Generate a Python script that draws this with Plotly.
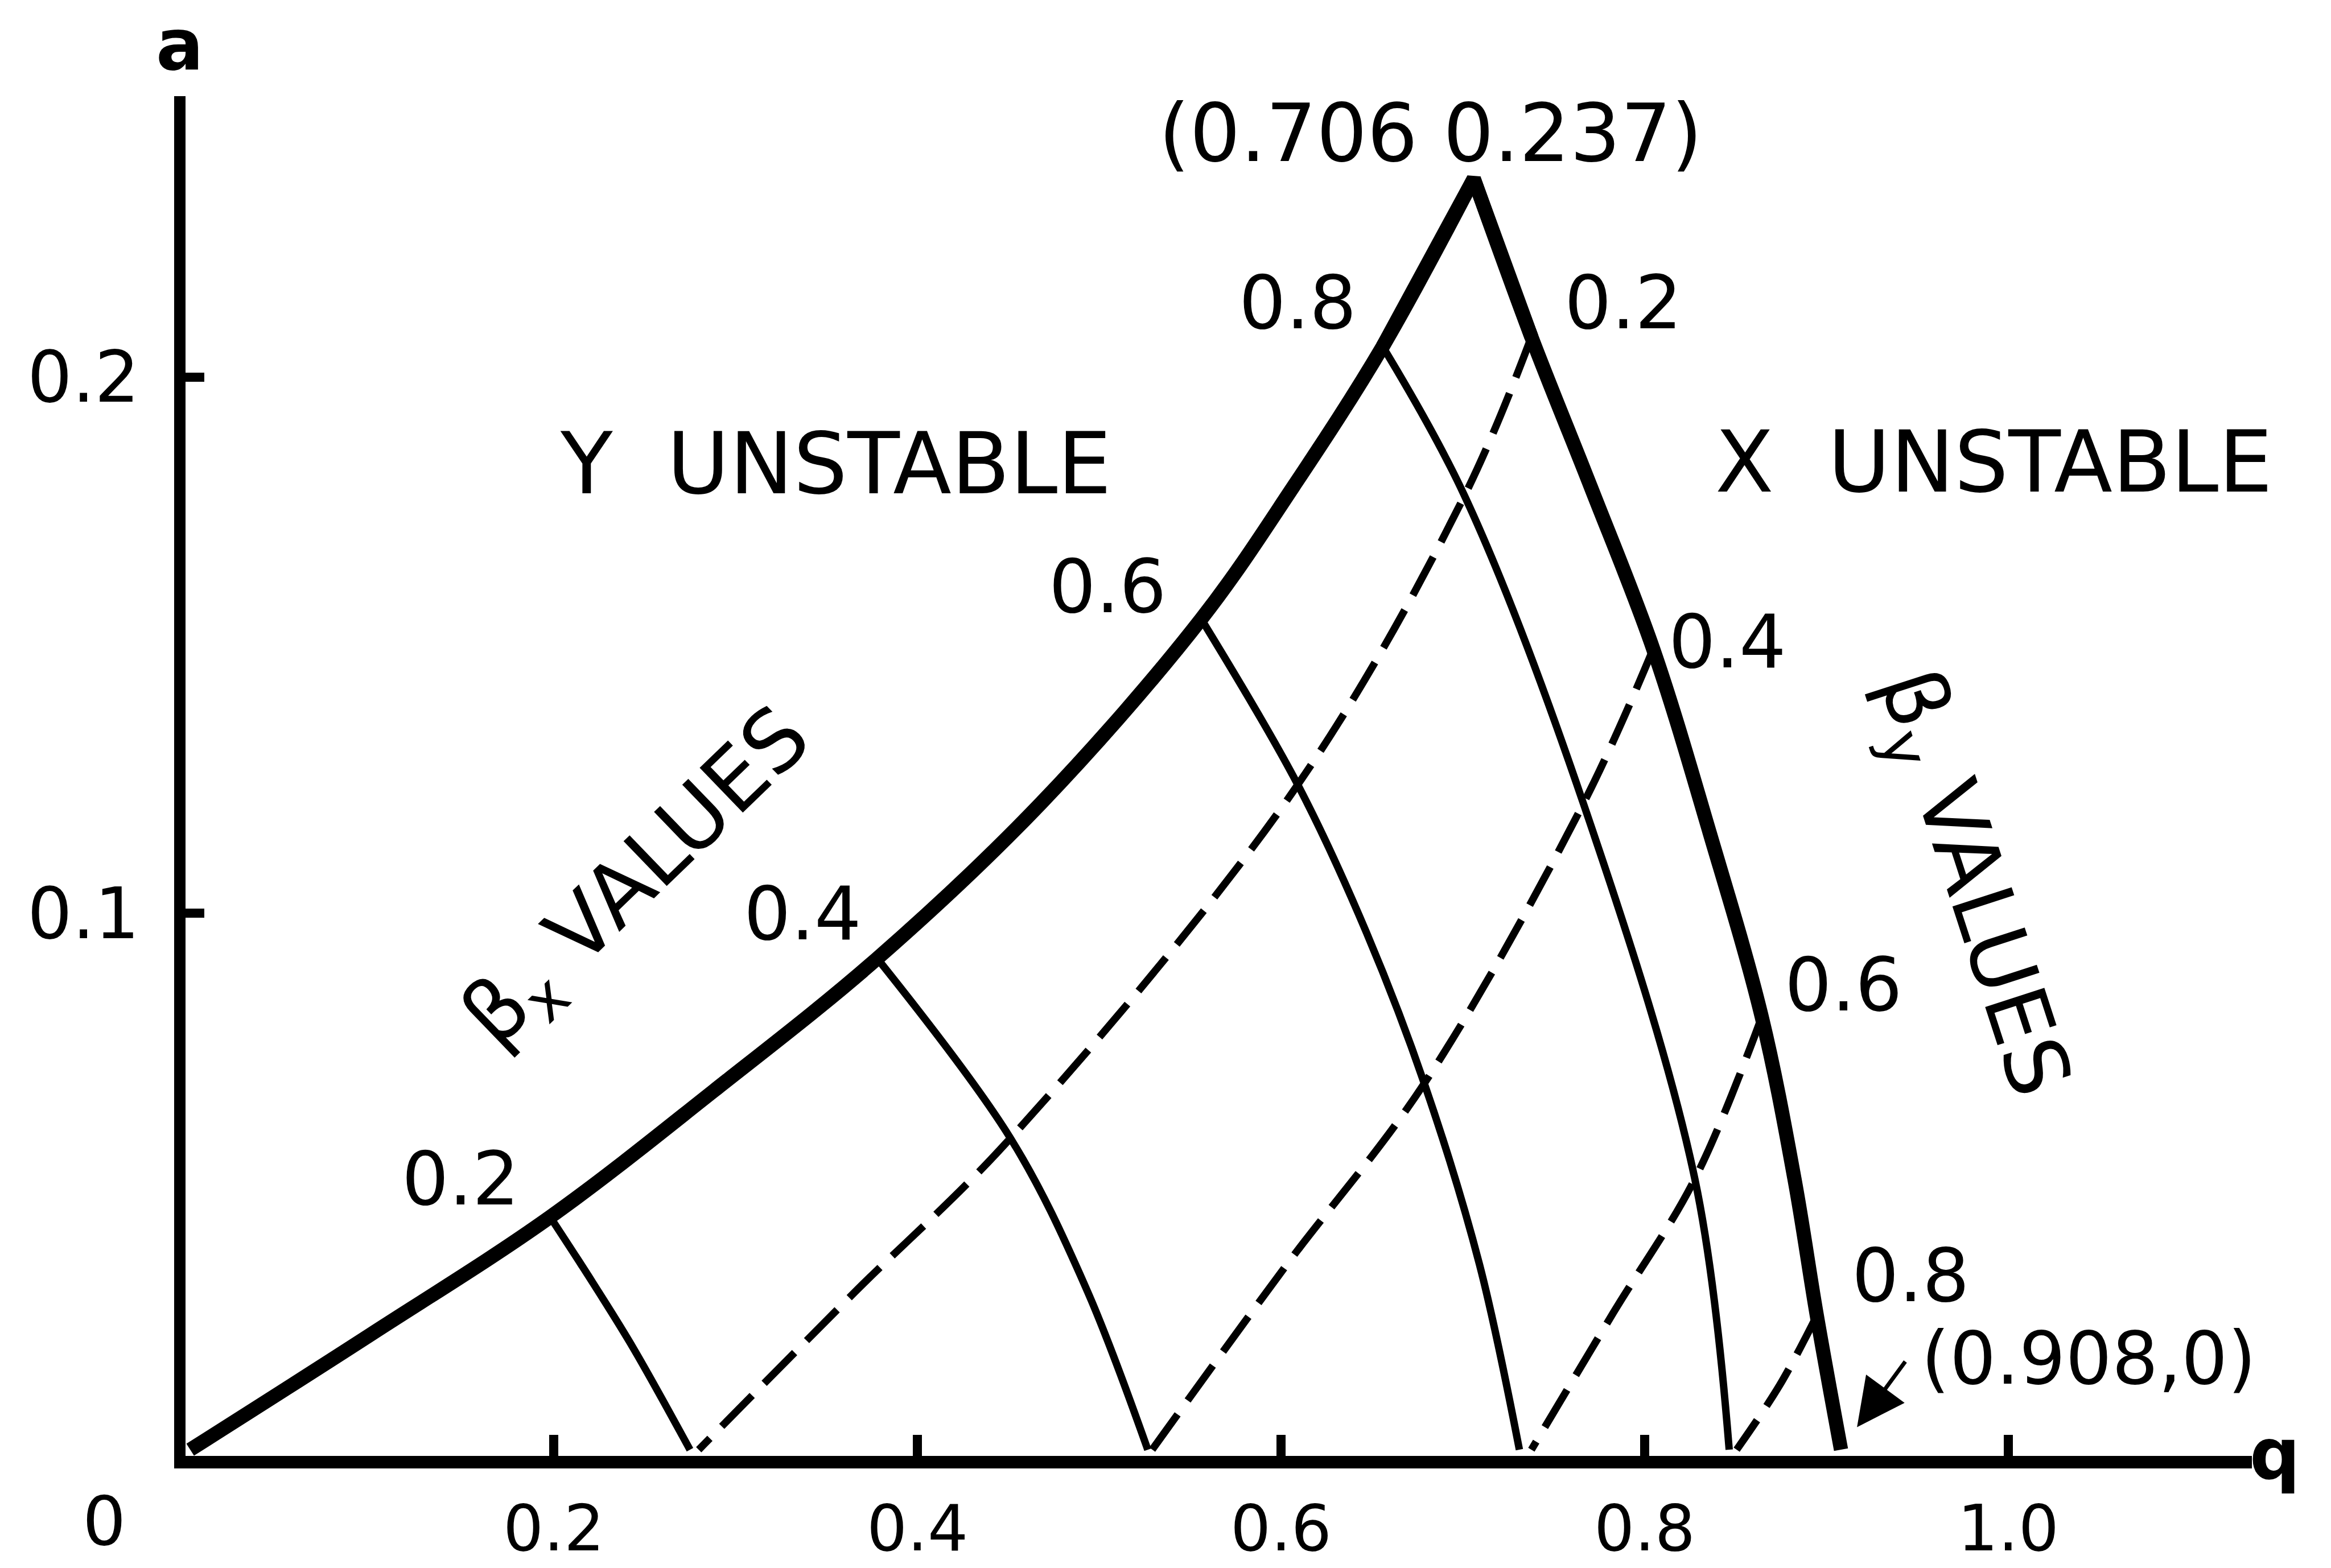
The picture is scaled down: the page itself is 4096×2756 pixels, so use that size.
import plotly.graph_objects as go

FONT = "DejaVu Sans"

# ---- first stability region boundary (a-q plane) ----
q_left = [0.0, 0.0998, 0.198, 0.2879, 0.3779, 0.4678, 0.5561, 0.6068, 0.6559, 0.706]
a_left = [0.0, 0.0216, 0.0434, 0.0669, 0.0916, 0.1205, 0.1549, 0.1796, 0.2057, 0.237]

q_right = [0.706, 0.7377, 0.7704, 0.8047, 0.8358, 0.8644, 0.8824, 0.8947, 0.908]
a_right = [0.237, 0.2075, 0.1795, 0.1493, 0.1150, 0.0807, 0.0505, 0.0250, 0.0]

# ---- iso-beta_x curves (solid) ----
bx_q = {
    "0.2": [0.198, 0.2217, 0.2438, 0.2749],
    "0.4": [0.3779, 0.4515, 0.4924, 0.5267],
    "0.6": [0.5561, 0.6092, 0.6469, 0.6788, 0.7091, 0.7311],
    "0.8": [0.6559, 0.7009, 0.7663, 0.8276, 0.8465],
}
bx_a = {
    "0.2": [0.0434, 0.0310, 0.0189, 0.0],
    "0.4": [0.0916, 0.0579, 0.0304, 0.0],
    "0.6": [0.1549, 0.1240, 0.0965, 0.0683, 0.0346, 0.0],
    "0.8": [0.2057, 0.1779, 0.1205, 0.0505, 0.0],
}

# ---- iso-beta_y curves (dashed) ----
by_q = {
    "0.2": [0.7377, 0.7009, 0.6092, 0.4515, 0.3656, 0.2797],
    "0.4": [0.8047, 0.7663, 0.6788, 0.6027, 0.5291],
    "0.6": [0.8644, 0.8276, 0.7827, 0.7377],
    "0.8": [0.8947, 0.8742, 0.8506],
}
by_a = {
    "0.2": [0.2075, 0.1779, 0.1240, 0.0582, 0.0294, 0.0],
    "0.4": [0.1493, 0.1205, 0.0683, 0.0343, 0.0],
    "0.6": [0.0807, 0.0505, 0.0255, 0.0],
    "0.8": [0.0250, 0.0120, 0.0],
}

# labelled points and axis ticks
apex = (0.706, 0.237)
q_intercept = (0.908, 0.0)
x_ticks = [0.2, 0.4, 0.6, 0.8, 1.0]
x_tick_text = ["0.2", "0.4", "0.6", "0.8", "1.0"]
y_ticks = [0.1, 0.2]
y_tick_text = ["0.1", "0.2"]

X_RANGE = [-0.00257, 1.134]
Y_RANGE = [-0.00116, 0.2524]

fig = go.Figure()

BOUND_W = 25
THIN_W = 13

# sharp tip at the apex (miter join) under the two smooth branches
fig.add_trace(go.Scatter(
    x=[q_left[-2], apex[0], q_right[1]], y=[a_left[-2], apex[1], a_right[1]],
    mode="lines", line=dict(color="black", width=BOUND_W, shape="linear"),
    hoverinfo="skip"))
fig.add_trace(go.Scatter(
    x=q_left, y=a_left, mode="lines",
    line=dict(color="black", width=BOUND_W, shape="spline", smoothing=1.0),
    hoverinfo="skip"))
fig.add_trace(go.Scatter(
    x=q_right, y=a_right, mode="lines",
    line=dict(color="black", width=BOUND_W, shape="spline", smoothing=1.0),
    hoverinfo="skip"))

for key in bx_q:
    fig.add_trace(go.Scatter(
        x=bx_q[key], y=bx_a[key], mode="lines",
        line=dict(color="black", width=THIN_W, shape="spline", smoothing=1.0),
        hoverinfo="skip"))

for key in by_q:
    fig.add_trace(go.Scatter(
        x=by_q[key], y=by_a[key], mode="lines",
        line=dict(color="black", width=THIN_W, shape="spline", smoothing=1.0,
                  dash="76px,30px"),
        hoverinfo="skip"))


def to_paper(q, a):
    return ((q - X_RANGE[0]) / (X_RANGE[1] - X_RANGE[0]),
            (a - Y_RANGE[0]) / (Y_RANGE[1] - Y_RANGE[0]))


def label(text, x, y, size, angle=0, bold=False):
    px, py = to_paper(x, y)
    fig.add_annotation(
        x=px, y=py, xref="paper", yref="paper", text=text, showarrow=False,
        textangle=angle, xanchor="center", yanchor="middle",
        font=dict(family=FONT, size=size, color="black",
                  weight="bold" if bold else "normal"))


# axis names and origin
label("a", -0.0056, 0.2619, 124, bold=True)
label("q", 1.1466, -0.0008, 124, bold=True)
label("0", -0.0473, -0.0133, 120)

# labelled corner points
label("(0.706 0.237)", 0.6821, 0.2454, 140)
label("(0.908,0)", 1.0443, 0.0170, 128)
fig.add_annotation(
    x=0.9168, y=0.0042, ax=0.9437, ay=0.0166, xref="x", yref="y",
    axref="x", ayref="y", text="", showarrow=True, arrowhead=2,
    arrowsize=2.4, arrowwidth=7, arrowcolor="black")

# region names
label("Y  UNSTABLE", 0.3551, 0.1839, 150)
label("X  UNSTABLE", 0.9920, 0.1842, 150)
label("β<sub>x</sub> VALUES", 0.247, 0.1062, 150, angle=-44)
label("β<sub>y</sub> VALUES", 0.979, 0.1054, 150, angle=72)

# beta values along the boundaries
bx_label_pos = {"0.2": (0.1489, 0.0505), "0.4": (0.3369, 0.0999),
                "0.6": (0.5046, 0.1609), "0.8": (0.6093, 0.2139)}
by_label_pos = {"0.2": (0.7884, 0.2139), "0.4": (0.8456, 0.1507),
                "0.6": (0.9094, 0.0867), "0.8": (0.9462, 0.0325)}
for key, (x, y) in bx_label_pos.items():
    label(key, x, y, 130)
for key, (x, y) in by_label_pos.items():
    label(key, x, y, 130)

fig.update_layout(
    template="none",
    width=4096, height=2756,
    margin=dict(l=326, r=139, t=169, b=197, pad=0),
    paper_bgcolor="white", plot_bgcolor="white",
    showlegend=False,
)
fig.update_xaxes(
    range=X_RANGE, showline=True, linewidth=22, linecolor="black",
    ticks="inside", ticklen=37, tickwidth=16, tickcolor="black",
    tickvals=x_ticks, ticktext=x_tick_text, showgrid=False, zeroline=False,
    tickfont=dict(family=FONT, size=112, color="black"), ticklabelstandoff=10,
    automargin=False)
fig.update_yaxes(
    range=Y_RANGE, showline=True, linewidth=20, linecolor="black",
    ticks="inside", ticklen=33, tickwidth=16, tickcolor="black",
    tickvals=y_ticks, ticktext=y_tick_text, showgrid=False, zeroline=False,
    tickfont=dict(family=FONT, size=124, color="black"), ticklabelstandoff=36,
    automargin=False)

fig.write_html("out.html")
